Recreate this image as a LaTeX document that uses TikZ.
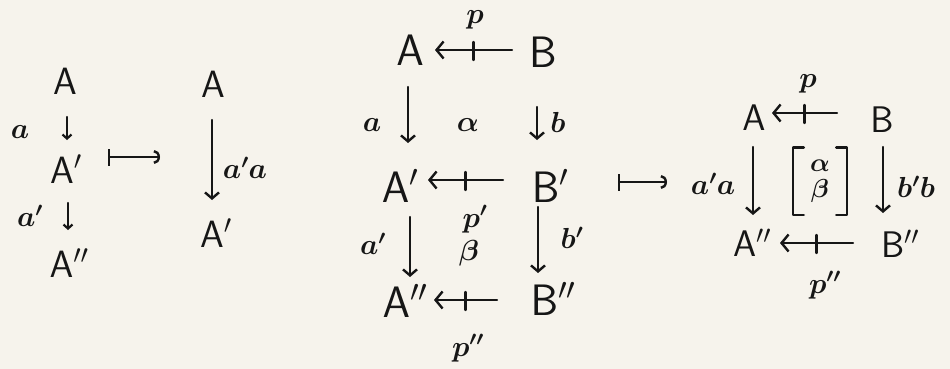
\RequirePackage{fix-cm}
\documentclass[tikz,border=0pt]{standalone}
\usetikzlibrary{arrows.meta,decorations.markings}
\definecolor{paper}{RGB}{246,243,236}
\definecolor{ink}{RGB}{22,22,22}
\tikzset{
  objL/.style={text=ink, inner sep=0pt, font=\fontsize{38}{40}\selectfont, text height=26pt, text depth=0pt},
  objM/.style={text=ink, inner sep=0pt, font=\fontsize{44}{46}\selectfont, text height=30.5pt, text depth=0pt},
  objR/.style={text=ink, inner sep=0pt, font=\fontsize{37}{39}\selectfont, text height=25.5pt, text depth=0pt},
  lbl/.style={text=ink, inner sep=0pt, font=\fontsize{29}{31}\selectfont\boldmath},
  arr/.style={draw=ink, line width=2.4pt, line cap=round, -{Straight Barb[length=6pt,width=14pt]}},
  arrsmall/.style={draw=ink, line width=2.2pt, line cap=round, -{Straight Barb[length=4pt,width=9pt]}},
  pro/.style={draw=ink, line width=2.4pt, line cap=round, -{Straight Barb[length=7pt,width=17pt]},
    postaction={decorate, decoration={markings, mark=at position 0.5 with {\draw[-, ink, line width=2.4pt, line cap=round] (0pt,-8pt) -- (0pt,10pt);}}}},
  mapsto/.style={draw=ink, line width=2.4pt, {Bar[width=17pt]}-{Arc Barb[length=6pt,width=14pt]}},
}
\begin{document}
\begin{tikzpicture}[x=1pt, y=-1pt]
\fill[paper] (0,0) rectangle (950,369);
\useasboundingbox (0,0) rectangle (950,369);

% ---------- left diagram ----------
\node[objL] (L1A)  at (65,81)  {$\mathsf{A}$};
\node[objL] (L1A1) at (66,170) {$\mathsf{A}'$};
\node[objL] (L1A2) at (69,264) {$\mathsf{A}''$};
\node[lbl] (la)  at (20,132) {$a$};
\node[lbl] (la1) at (30,216) {$a'$};
\draw[arrsmall] ([xshift=2pt,yshift=-36pt]L1A.center) -- ([xshift=1pt,yshift=30pt]L1A1.center);
\draw[arrsmall] ([xshift=2pt,yshift=-33pt]L1A1.center) -- ([xshift=-1pt,yshift=34pt]L1A2.center);

\coordinate (m1s) at (108,157);
\coordinate (m1e) at (160,157);
\draw[mapsto] (m1s) -- (m1e);

\node[objL] (R1A)  at (213,84)  {$\mathsf{A}$};
\node[objL] (R1A1) at (216,234) {$\mathsf{A}'$};
\node[lbl] (r1l) at (245,168) {$a'a$};
\draw[arr] ([xshift=-1pt,yshift=-36pt]R1A.center) -- ([xshift=-4pt,yshift=34pt]R1A1.center);

% ---------- middle diagram ----------
\node[objM] (MA)  at (410,50)  {$\mathsf{A}$};
\node[objM] (MB)  at (543,52)  {$\mathsf{B}$};
\node[objM] (MA1) at (400,187) {$\mathsf{A}'$};
\node[objM] (MB1) at (550,187) {$\mathsf{B}'$};
\node[objM] (MA2) at (405,302) {$\mathsf{A}''$};
\node[objM] (MB2) at (553,300) {$\mathsf{B}''$};

\node[lbl] (mp)    at (475,20)  {$p$};
\node[lbl] (ma)    at (372,125) {$a$};
\node[lbl] (malpha) at (468,125) {$\alpha$};
\node[lbl] (mb)    at (558,122) {$b$};
\node[lbl] (mp1)   at (475,219) {$p'$};
\node[lbl] (ma1)   at (373,244) {$a'$};
\node[lbl] (mbeta) at (469,253) {$\beta$};
\node[lbl] (mb1)   at (572,238) {$b'$};
\node[lbl] (mp2)   at (468,348) {$p''$};

\draw[pro] ([xshift=-31pt,yshift=2pt]MB.center) -- ([xshift=25pt]MA.center);
\draw[arr] ([xshift=-2pt,yshift=-37pt]MA.center) -- ([xshift=8pt,yshift=44pt]MA1.center);
\draw[arr] ([xshift=-6pt,yshift=-55pt]MB.center) -- ([xshift=-13pt,yshift=47pt]MB1.center);
\draw[pro] ([xshift=-47pt,yshift=7pt]MB1.center) -- ([xshift=28pt,yshift=7pt]MA1.center);
\draw[arr] ([xshift=10pt,yshift=-30pt]MA1.center) -- ([xshift=5pt,yshift=25pt]MA2.center);
\draw[arr] ([xshift=-12pt,yshift=-20pt]MB1.center) -- ([xshift=-15pt,yshift=27pt]MB2.center);
\draw[pro] ([xshift=-56pt]MB2.center) -- ([xshift=29pt,yshift=2pt]MA2.center);

\coordinate (m2s) at (618,182);
\coordinate (m2e) at (667,182);
\draw[mapsto] (m2s) -- (m2e);

% ---------- right diagram ----------
\node[objR] (RA)  at (754,118) {$\mathsf{A}$};
\node[objR] (RB)  at (882,120) {$\mathsf{B}$};
\node[objR] (RA2) at (752,244) {$\mathsf{A}''$};
\node[objR] (RB2) at (900,245) {$\mathsf{B}''$};
\node[lbl] (rp)  at (808,84)  {$p$};
\node[lbl] (rl)  at (713,184) {$a'a$};
\node[lbl] (rr)  at (916,187) {$b'b$};
\node[lbl] (rp2) at (825,285) {$p''$};
\node[text=ink, inner sep=0pt, minimum width=54pt, minimum height=67pt, align=center,
      font=\fontsize{26}{26}\selectfont\boldmath] (br) at (820,181) {$\alpha$\\$\beta$};
\draw[ink, line width=2.4pt, line cap=round, line join=round]
  ([xshift=11pt]br.north west) -- (br.north west) -- (br.south west) -- ([xshift=11pt]br.south west);
\draw[ink, line width=2.4pt, line cap=round, line join=round]
  ([xshift=-11pt]br.north east) -- (br.north east) -- (br.south east) -- ([xshift=-11pt]br.south east);

\draw[pro] ([xshift=-45pt,yshift=7pt]RB.center) -- ([xshift=18pt,yshift=5pt]RA.center);
\draw[arr] ([xshift=-1pt,yshift=-29pt]RA.center) -- ([xshift=1pt,yshift=29pt]RA2.center);
\draw[arr] ([xshift=1pt,yshift=-27pt]RB.center) -- ([xshift=-17pt,yshift=32pt]RB2.center);
\draw[pro] ([xshift=-47pt,yshift=2pt]RB2.center) -- ([xshift=28pt,yshift=1pt]RA2.center);
\end{tikzpicture}
\end{document}
